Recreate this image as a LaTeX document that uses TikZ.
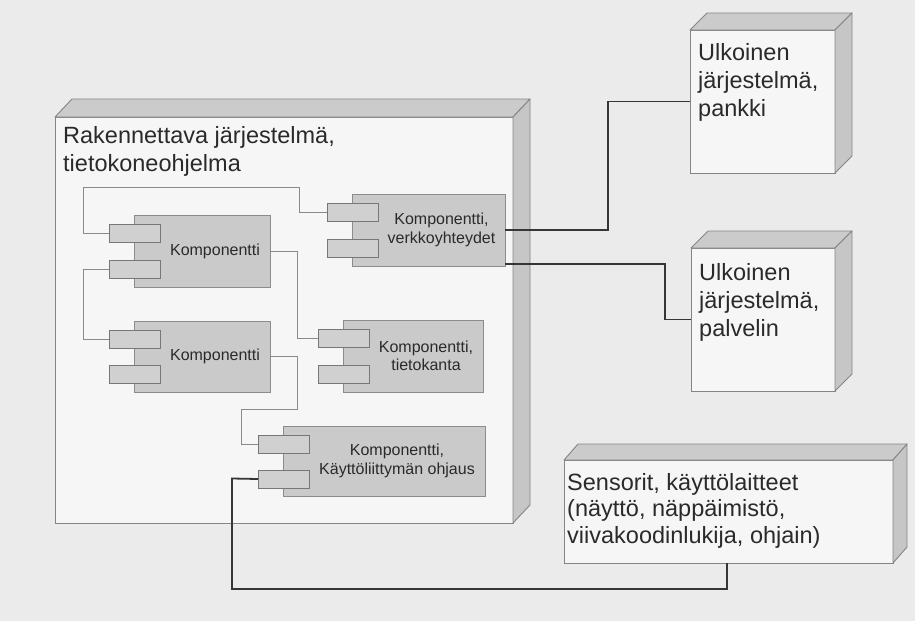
\documentclass[tikz,border=0pt]{standalone}
\usepackage{fontspec}
\setmainfont{Liberation Sans}
\usetikzlibrary{calc}
\definecolor{bgc}{HTML}{EBEBEB}
\definecolor{frontc}{HTML}{F6F6F6}
\definecolor{topc}{HTML}{CBCBCB}
\definecolor{sidec}{HTML}{C6C6C6}
\definecolor{edgec}{HTML}{858585}
\definecolor{compc}{HTML}{CACACA}
\definecolor{portc}{HTML}{D0D0D0}
\definecolor{compedge}{HTML}{8C8C8C}
\definecolor{thinc}{HTML}{8A8A8A}
\definecolor{thickc}{HTML}{363636}
\definecolor{textc}{HTML}{2A2A2A}
\tikzset{
  frontface/.style={draw=edgec, fill=frontc, line width=0.9pt, inner sep=0pt, outer sep=0pt},
  topface/.style={draw=edgec, fill=topc, line width=0.9pt, line join=round},
  sideface/.style={draw=edgec, fill=sidec, line width=0.9pt, line join=round},
  compbody/.style={draw=compedge, fill=compc, line width=0.9pt, inner sep=0pt, outer sep=0pt},
  portbox/.style={draw=compedge!85!black, fill=portc, line width=0.9pt, inner sep=0pt, outer sep=0pt, minimum width=51pt, minimum height=18pt},
  complabel/.style={font=\fontsize{16}{18.5}\selectfont, align=center, text=textc, inner sep=0pt},
  bigtext/.style={font=\fontsize{23.5}{28}\selectfont, align=left, text=textc, inner sep=0pt},
  thinwire/.style={draw=thinc, line width=0.9pt},
  thickwire/.style={draw=thickc, line width=1.8pt, line join=miter}
}
\newcommand\depthfaces[3]{%
  \filldraw[topface] (#1.north west) -- ++(#2,-#3) -- ($(#1.north east)+(#2,-#3)$) -- (#1.north east) -- cycle;
  \filldraw[sideface] (#1.north east) -- ++(#2,-#3) -- ($(#1.south east)+(#2,-#3)$) -- (#1.south east) -- cycle;
}
\newcommand\compo[7]{%
  \node[compbody, minimum width=#4pt, minimum height=#5pt, anchor=north west] (#1) at (#2,#3) {};
  \node[portbox, anchor=north west] (#1p1) at ($(#1.north west)+(-25,9)$) {};
  \node[portbox, anchor=north west] (#1p2) at ($(#1.north west)+(-25,#6)$) {};
  \node[complabel] (#1t) at ($(#1.center)+(13,0)$) {#7};
}
\begin{document}
\begin{tikzpicture}[x=1pt,y=-1pt]
\useasboundingbox (0,0) rectangle (915,621);
\fill[bgc] (0,0) rectangle (915,621);

% main node
\node[frontface, minimum width=458pt, minimum height=406pt, anchor=north west] (main) at (55,117) {};
\depthfaces{main}{17}{18}
\node[bigtext, anchor=north west] (maintext) at (63,126) {Rakennettava järjestelmä,\\tietokoneohjelma};

% external nodes
\node[frontface, minimum width=145pt, minimum height=143pt, anchor=north west] (bank) at (690,30) {};
\depthfaces{bank}{17}{17}
\node[bigtext, anchor=north west] (banktext) at (698,43) {Ulkoinen\\järjestelmä,\\pankki};

\node[frontface, minimum width=144pt, minimum height=143pt, anchor=north west] (server) at (691,248) {};
\depthfaces{server}{17}{17}
\node[bigtext, anchor=north west] (servertext) at (699,263) {Ulkoinen\\järjestelmä,\\palvelin};

\node[frontface, minimum width=329pt, minimum height=103pt, anchor=north west] (sensor) at (564,460) {};
\depthfaces{sensor}{14}{16}
\node[bigtext, font=\fontsize{23.5}{26.5}\selectfont, anchor=north west] (sensortext) at (567,473) {Sensorit, käyttölaitteet\\(näyttö, näppäimistö,\\viivakoodinlukija, ohjain)};

% components
\compo{ca}{134}{215}{136}{72}{45}{Komponentti}
\compo{cb}{134}{321}{136}{71}{44}{Komponentti}
\compo{cv}{352}{194}{153}{72}{45}{Komponentti,\\verkkoyhteydet}
\compo{ct}{343}{320}{140}{72}{45}{Komponentti,\\tietokanta}
\compo{cu}{283}{426}{202}{70}{44}{Komponentti,\\Käyttöliittymän ohjaus}

% thin internal connectors
\draw[thinwire] (cap1.west) -- ++(-26,0) |- (299,187) |- (cvp1.west);
\draw[thinwire] (cap2.west) -- ++(-26,0) |- (cbp1.west);
\draw[thinwire] (ca.east) -- ++(27,0) |- (ctp1.west);
\draw[thinwire] (cb.east) -- ++(27,0) |- (241,409) |- (cup1.west);

% thick external connectors
\coordinate (k1) at (608,230);
\coordinate (k2) at (608,101.5);
\coordinate (k3) at (505,264);
\coordinate (k4) at (665,264);
\coordinate (k5) at (665,319.5);
\coordinate (k6) at (232,478.5);
\coordinate (k7) at (232,589);
\coordinate (k8) at (727,589);
\coordinate (k9) at (727,563);
\draw[thickwire] (cv.east) -- (k1) -- (k2) -- (bank.west);
\draw[thickwire] (k3) -- (k4) -- (k5) -- (server.west);
\draw[thickwire] (cup2.west) -- (k6) -- (k7) -- (k8) -- (k9);
\end{tikzpicture}
\end{document}
